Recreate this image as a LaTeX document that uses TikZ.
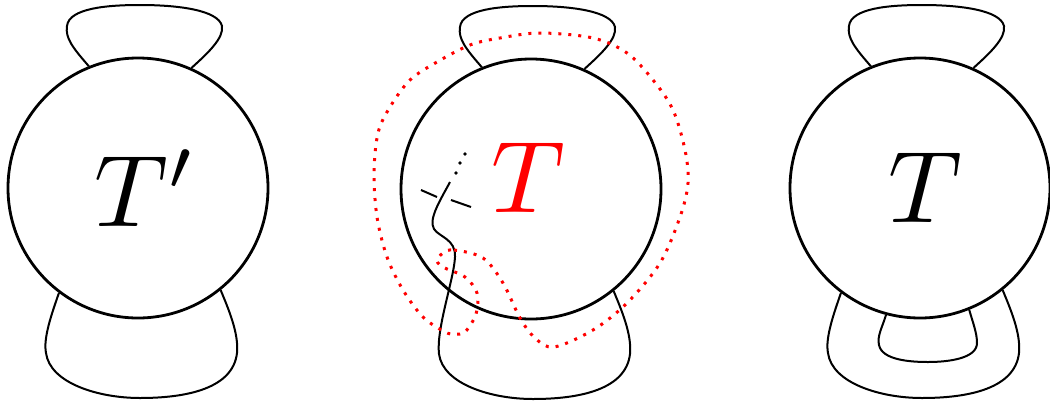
\documentclass[tikz,border=0pt]{standalone}
\usepackage{graphicx}
\begin{document}
\begin{tikzpicture}[x=1pt,y=-1pt,
  strand/.style={line width=2pt},
  ball/.style={circle,draw,line width=2.8pt,fill=white,minimum size=260pt,inner sep=0pt},
  redloop/.style={red,line width=3pt,dash pattern=on 3pt off 7pt},
  lbl/.style={inner sep=0pt},
  dotn/.style={circle,fill,inner sep=0pt,minimum size=3.8pt}]
\useasboundingbox (0,0) rectangle (1050,405);

% ---------- left ----------
\begin{scope}[shift={(138,188)}]
  \node[ball] (L) at (0,0) {};
  \node[lbl] (LT) at (8,0) {\scalebox{10.2}{$T'$}};
  \draw[strand] (L.112) .. controls (-65,-140) and (-73,-150) .. (-71,-162)
     .. controls (-69,-180) and (-30,-183) .. (2,-183)
     .. controls (40,-183) and (80,-178) .. (84,-162)
     .. controls (86,-150) and (70,-135) .. (L.66);
  \draw[strand] (L.233) .. controls (-86,125) and (-95,150) .. (-92,165)
     .. controls (-88,195) and (-40,210) .. (2,210)
     .. controls (50,210) and (95,200) .. (99,165)
     .. controls (101,145) and (90,120) .. (L.309);
\end{scope}

% ---------- middle ----------
\begin{scope}[shift={(531,189)}]
  \node[ball] (M) at (0,0) {};
  \draw[strand] (M.112) .. controls (-65,-140) and (-73,-150) .. (-71,-162)
     .. controls (-69,-180) and (-30,-183) .. (2,-183)
     .. controls (40,-183) and (80,-178) .. (84,-162)
     .. controls (86,-150) and (70,-135) .. (M.66);
  \coordinate (s0) at (-81,-7);
  \draw[strand] (s0) .. controls (-90,10) and (-103,30) .. (-97,40)
     .. controls (-92,48) and (-75,50) .. (-76,68)
     .. controls (-77,90) and (-95,140) .. (-92,165)
     .. controls (-88,195) and (-40,210) .. (2,210)
     .. controls (50,210) and (95,200) .. (99,165)
     .. controls (101,145) and (90,120) .. (M.309);
  \node[lbl,text=red] (MT) at (-3,-11) {\scalebox{10.2}{$T$}};
  \coordinate (da) at (-110,1); \coordinate (db) at (-94,8);
  \coordinate (dc) at (-80,11); \coordinate (dd) at (-60,18);
  \draw[strand] (da) -- (db);
  \draw[strand] (dc) -- (dd);
  \node[dotn] (d1) at (-75,-16) {};
  \node[dotn] (d2) at (-71,-26) {};
  \node[dotn] (d3) at (-66,-35) {};
  \draw[redloop] plot[smooth cycle,tension=0.55] coordinates {
    (-88,64) (-77,61) (-48,69) (-28,94) (-11,129) (4,149) (23,158)
    (62,141) (96,114) (129,74) (149,28) (157,-6) (154,-39) (142,-79)
    (122,-109) (96,-136) (62,-151) (9,-156) (-31,-151) (-61,-144)
    (-94,-127) (-121,-109) (-141,-82) (-153,-56) (-157,-16) (-154,28)
    (-144,68) (-128,101) (-108,128) (-86,143) (-76,145) (-66,143)
    (-55,125) (-54,104) (-66,88) (-86,79) (-94,72)};
\end{scope}

% ---------- right ----------
\begin{scope}[shift={(920,188)}]
  \node[ball] (R) at (0,0) {};
  \node[lbl] (RT) at (5,0) {\scalebox{10.2}{$T$}};
  \draw[strand] (R.112) .. controls (-65,-140) and (-73,-150) .. (-71,-162)
     .. controls (-69,-180) and (-30,-183) .. (2,-183)
     .. controls (40,-183) and (80,-178) .. (84,-162)
     .. controls (86,-150) and (70,-135) .. (R.66);
  \draw[strand] (R.233) .. controls (-86,125) and (-95,150) .. (-92,165)
     .. controls (-88,195) and (-40,210) .. (2,210)
     .. controls (50,210) and (95,200) .. (99,165)
     .. controls (101,145) and (90,120) .. (R.309);
  \draw[strand] (R.255) .. controls (-38,140) and (-43,148) .. (-41,157)
     .. controls (-38,172) and (-10,174) .. (8,174)
     .. controls (30,174) and (57,170) .. (57,155)
     .. controls (57,145) and (53,135) .. (R.292);
\end{scope}
\end{tikzpicture}
\end{document}
